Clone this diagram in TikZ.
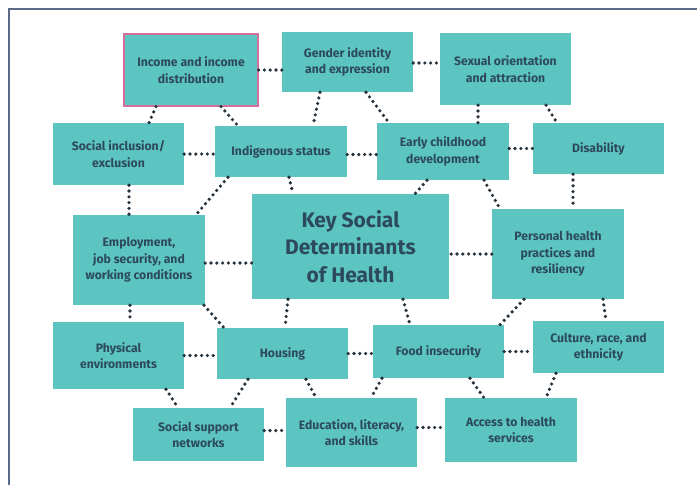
\documentclass[tikz,border=0pt]{standalone}
\usepackage{fontspec}
\setmainfont{Fira Sans}
\usetikzlibrary{positioning}
\definecolor{tealbox}{HTML}{5CC4C1}
\definecolor{darktext}{HTML}{2C4A5C}
\definecolor{pinkline}{HTML}{D46F9B}
\definecolor{dotcol}{HTML}{26323C}
\definecolor{framecol}{HTML}{5C6B8A}
\newcommand{\sdh}{\fontsize{12.2}{16.5}\selectfont\bfseries}

\begin{document}
\begin{tikzpicture}[x=1pt,y=-1pt,
  box/.style={fill=tealbox,draw=none,text=darktext,align=center,
    inner sep=0pt,font=\sdh},
  dotline/.style={dotcol,line width=3.6pt,line cap=round,
    dash pattern=on 0pt off 5.8pt}]
  \useasboundingbox (0,0) rectangle (697,485);
  \draw[framecol,line width=1.2pt] (9,485) -- (9,9) -- (697,9);
  % boxes, top row
  \node[box,minimum width=134,minimum height=72,draw=pinkline,line width=1.2pt]
    (income) at (191,70) {Income and income\\distribution};
  \node[box,minimum width=131,minimum height=60] (gender) at (347.5,62)
    {Gender identity\\and expression};
  \node[box,minimum width=131,minimum height=72] (sexual) at (505.5,69)
    {Sexual orientation\\and attraction};
  % second row
  \node[box,minimum width=131,minimum height=62] (inclusion) at (118.5,154)
    {Social inclusion/\\exclusion};
  \node[box,minimum width=132,minimum height=51] (indigenous) at (281,151.5)
    {Indigenous status};
  \node[box,minimum width=132,minimum height=57] (childhood) at (443,151.5)
    {Early childhood\\development};
  \node[box,minimum width=131,minimum height=51] (disability) at (598.5,148.5)
    {Disability};
  % middle row
  \node[box,minimum width=197,minimum height=105,
    font=\fontsize{21}{27.5}\selectfont\bfseries] (key) at (350.5,246.5)
    {Key Social\\Determinants\\of Health};
  \node[box,minimum width=132,minimum height=90] (employment) at (139,260)
    {Employment,\\job security, and\\working conditions};
  \node[box,minimum width=132,minimum height=90] (personal) at (558,254)
    {Personal health\\practices and\\resiliency};
  % fourth row
  \node[box,minimum width=131,minimum height=67] (physical) at (118.5,355.5)
    {Physical\\environments};
  \node[box,minimum width=131,minimum height=51] (housing) at (282.5,353.5)
    {Housing};
  \node[box,minimum width=131,minimum height=53] (food) at (438.5,351.5)
    {Food insecurity};
  \node[box,minimum width=131,minimum height=52] (culture) at (598.5,347)
    {Culture, race, and\\ethnicity};
  % bottom row
  \node[box,minimum width=131,minimum height=53] (support) at (198.5,434.5)
    {Social support\\networks};
  \node[box,minimum width=131,minimum height=69] (education) at (351.5,432.5)
    {Education, literacy,\\and skills};
  \node[box,minimum width=132,minimum height=64] (access) at (511,430)
    {Access to health\\services};
  % dotted links
  \draw[dotline] (income.east) -- (income.east -| gender.west);
  \draw[dotline] ([xshift=-35]income.south) -- ([xshift=30.5]inclusion.north);
  \draw[dotline] ([xshift=30]income.south) -- ([xshift=-43]indigenous.north);
  \draw[dotline] ([xshift=-27.5]gender.south) -- ([xshift=32]indigenous.north);
  \draw[dotline] ([xshift=18.5]gender.south) -- ([xshift=-54]childhood.north);
  \draw[dotline] ([yshift=-1]gender.east) -- ([yshift=-1]gender.east -| sexual.west);
  \draw[dotline] ([xshift=-27.5]sexual.south) -- ([xshift=35]childhood.north);
  \draw[dotline] ([xshift=40.5]sexual.south) -- ([xshift=-41.5]disability.north);
  \draw[dotline] (inclusion.east) -- (inclusion.east -| indigenous.west);
  \draw[dotline] ([yshift=-3]indigenous.east) -- ([yshift=-3]indigenous.east -| childhood.west);
  \draw[dotline] ([yshift=3]childhood.east) -- ([yshift=3]childhood.east -| disability.west);
  \draw[dotline] ([xshift=10.5]inclusion.south) -- ([xshift=-10]employment.north);
  \draw[dotline] ([xshift=-53]indigenous.south) -- ([xshift=57]employment.north);
  \draw[dotline] ([xshift=8]indigenous.south) -- ([xshift=-57.5]key.north);
  \draw[dotline] ([xshift=-16]childhood.south) -- ([xshift=64.5]key.north);
  \draw[dotline] ([xshift=41]childhood.south) -- ([xshift=-58]personal.north);
  \draw[dotline] ([xshift=-25.5]disability.south) -- ([xshift=15]personal.north);
  \draw[dotline] ([yshift=-3]employment.east) -- ([yshift=-3]employment.east -| key.west);
  \draw[dotline] (personal.west) -- (personal.west -| key.east);
  \draw[dotline] ([xshift=-9]employment.south) -- ([xshift=11.5]physical.north);
  \draw[dotline] ([xshift=65]employment.south) -- ([xshift=-58.5]housing.north);
  \draw[dotline] ([xshift=-62.5]key.south) -- ([xshift=2.5]housing.north);
  \draw[dotline] ([xshift=52.5]key.south) -- ([xshift=-28.5]food.north);
  \draw[dotline] ([xshift=-34]personal.south) -- ([xshift=61.5]food.north);
  \draw[dotline] ([xshift=45]personal.south) -- ([xshift=7.5]culture.north);
  \draw[dotline] (physical.east) -- (physical.east -| housing.west);
  \draw[dotline] (housing.east) -- (housing.east -| food.west);
  \draw[dotline] (food.east) -- (food.east -| culture.west);
  \draw[dotline] ([xshift=47.5]physical.south) -- ([xshift=-20.5]support.north);
  \draw[dotline] ([xshift=-34.5]housing.south) -- ([xshift=31.5]support.north);
  \draw[dotline] ([xshift=23.5]housing.south) -- ([xshift=-35.5]education.north);
  \draw[dotline] ([xshift=-56.5]food.south) -- ([xshift=19.5]education.north);
  \draw[dotline] ([xshift=31.5]food.south) -- ([xshift=-27]access.north);
  \draw[dotline] ([xshift=-42.5]culture.south) -- ([xshift=35]access.north);
  \draw[dotline] ([yshift=4]support.east) -- ([yshift=4]support.east -| education.west);
  \draw[dotline] ([yshift=5]education.east) -- ([yshift=5]education.east -| access.west);
\end{tikzpicture}
\end{document}
